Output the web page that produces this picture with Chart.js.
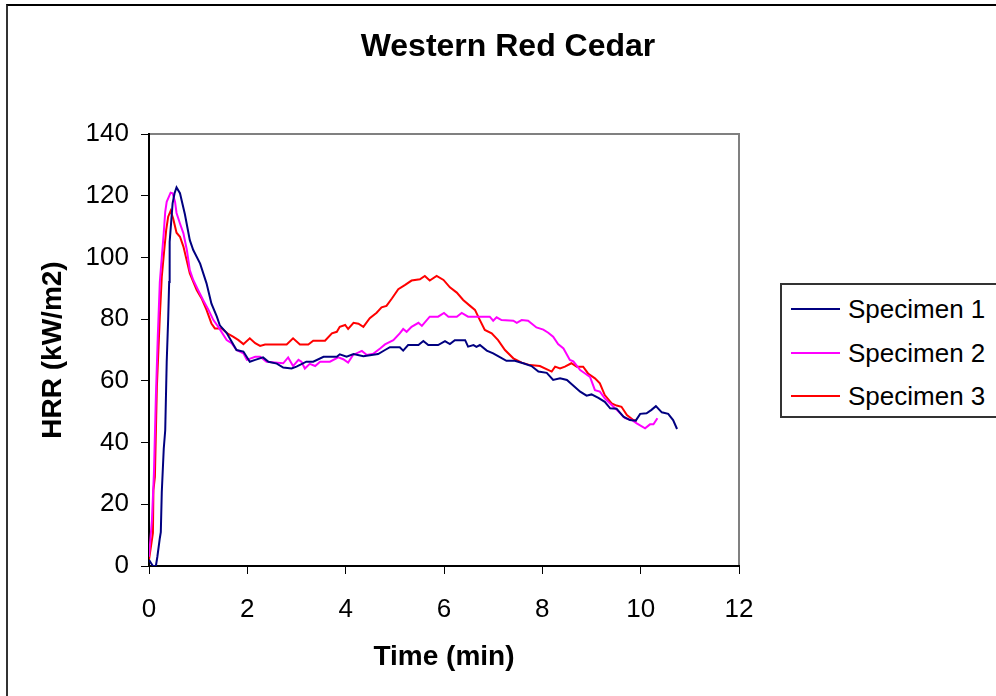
<!DOCTYPE html>
<html>
<head>
<meta charset="utf-8">
<script src="https://cdn.jsdelivr.net/npm/chart.js@4.4.1/dist/chart.umd.min.js"></script>
<style>
  body { margin: 0; background: #fff; font-family: "Liberation Sans", Arial, sans-serif; }
  #wrap { position: relative; width: 996px; height: 696px; overflow: hidden; }
  #frame { position: absolute; left: 6px; top: 4px; width: 1100px; height: 800px; border-left: 2px solid #333; border-top: 2px solid #000; }
  #chart { position: absolute; left: 0; top: 0; }
  #legend { position: absolute; left: 780px; top: 283px; width: 240px; height: 131px; border: 2px solid #333; background: #fff; }
  .row { position: absolute; left: 0; height: 30px; line-height: 30px; font-size: 26px; color: #000; white-space: nowrap; }
  .swatch { position: absolute; left: 9px; top: 14px; width: 49px; height: 2px; }
  .label { position: absolute; left: 66px; top: 0; }
</style>
</head>
<body>
<div id="wrap">
  <div id="frame"></div>
  <canvas id="chart" width="996" height="696"></canvas>
  <div id="legend"></div>
</div>
<script>
// gelezen uit de grafiek: tijd in minuten en HRR in kW/m2
const labels = ['Specimen 1', 'Specimen 2', 'Specimen 3'];
const colors = ['#000080', '#FF00FF', '#FF0000'];

const time1 = [0.00, 0.04, 0.08, 0.14, 0.17, 0.22, 0.24, 0.26, 0.30, 0.33, 0.36, 0.39, 0.41, 0.42, 0.48, 0.52, 0.56, 0.63, 0.73, 0.83,
  0.90, 1.04, 1.17, 1.27, 1.38, 1.44, 1.58, 1.78, 1.92, 2.05, 2.16, 2.32, 2.43, 2.60, 2.73, 2.90, 3.00, 3.20, 3.34, 3.55,
  3.82, 3.88, 4.02, 4.16, 4.36, 4.66, 4.80, 4.90, 5.10, 5.17, 5.27, 5.48, 5.58, 5.68, 5.88, 6.02, 6.12, 6.22, 6.43, 6.49,
  6.60, 6.66, 6.73, 6.87, 7.00, 7.10, 7.27, 7.44, 7.61, 7.78, 7.92, 8.09, 8.22, 8.36, 8.50, 8.77, 8.90, 9.00, 9.14, 9.27,
  9.38, 9.51, 9.65, 9.78, 9.90, 9.99, 10.12, 10.22, 10.31, 10.43, 10.56, 10.66, 10.74];
const hrr1 = [2, 1, 0, 0, 3, 9, 11, 24, 38, 44, 66, 80, 92, 105, 117.5, 120.8, 122.7, 120.8, 114, 105.6,
  102.4, 98, 91.6, 85, 80.8, 78, 75.5, 70, 69.5, 66.2, 66.8, 67.6, 66.2, 65.6, 64.3, 64, 64.6, 66.2, 66.2, 67.8,
  67.8, 68.6, 67.8, 68.7, 68, 68.7, 70, 70.9, 70.9, 69.8, 71.6, 71.6, 72.9, 71.6, 71.6, 72.9, 71.9, 73.2, 73.2, 71.1,
  71.6, 71.0, 71.6, 69.8, 68.9, 68, 66.5, 66.5, 65.7, 64.8, 63, 62.6, 60.3, 60.8, 60.3, 56.5, 55.2, 55.6, 54.5, 53.2,
  51.1, 51, 48.4, 47.3, 47.1, 49.3, 49.5, 50.6, 51.8, 49.8, 49.3, 47.3, 44.4];

const time2 = [0.00, 0.06, 0.10, 0.14, 0.18, 0.22, 0.26, 0.30, 0.33, 0.36, 0.44, 0.48, 0.53, 0.56, 0.63, 0.70, 0.77, 0.83, 0.90, 1.00,
  1.10, 1.21, 1.31, 1.41, 1.58, 1.68, 1.78, 1.92, 1.99, 2.16, 2.26, 2.39, 2.73, 2.83, 2.93, 3.04, 3.10, 3.17, 3.27, 3.38,
  3.48, 3.68, 3.85, 3.95, 4.05, 4.15, 4.33, 4.43, 4.56, 4.70, 4.80, 4.97, 5.10, 5.17, 5.24, 5.34, 5.48, 5.55, 5.71, 5.88,
  6.00, 6.09, 6.26, 6.36, 6.49, 6.93, 7.00, 7.07, 7.17, 7.41, 7.48, 7.58, 7.71, 7.88, 8.02, 8.12, 8.22, 8.32, 8.43, 8.56,
  8.63, 8.77, 8.87, 8.97, 9.07, 9.17, 9.27, 9.41, 9.54, 9.68, 9.82, 9.92, 10.09, 10.19, 10.26, 10.34];
const hrr2 = [3, 15, 30, 55, 75, 92, 100, 108, 114.8, 118, 121, 120.8, 118, 114.4, 111, 107.8, 102.4, 95.9, 92.7, 89.4,
  86.2, 83, 79.7, 77.5, 73.2, 72.2, 70, 68.9, 66.8, 67.8, 67.8, 66.2, 65.7, 67.6, 64.8, 66.8, 66.2, 64, 65.5, 64.8,
  66.2, 66.2, 67.6, 67, 65.9, 68.4, 69.7, 68.4, 68.8, 70.5, 71.8, 73.2, 75.4, 76.8, 75.9, 77.5, 78.8, 77.8, 80.8, 80.8,
  82, 80.8, 80.8, 82, 80.8, 80.8, 79.5, 80.6, 79.7, 79.5, 78.8, 79.7, 79.5, 77.3, 76.6, 75.6, 74.3, 71.9, 70.5, 66.8,
  66.3, 63.5, 62.4, 61.3, 57, 56.5, 54.3, 52.2, 50.2, 47.9, 47.3, 46.2, 44.6, 45.9, 45.9, 47.9];

const time3 = [0.00, 0.02, 0.08, 0.09, 0.12, 0.16, 0.22, 0.26, 0.31, 0.35, 0.39, 0.44, 0.49, 0.56, 0.63, 0.70, 0.83, 0.97, 1.07, 1.17,
  1.27, 1.34, 1.48, 1.61, 1.71, 1.82, 1.92, 2.05, 2.16, 2.26, 2.36, 2.80, 2.93, 3.07, 3.24, 3.34, 3.58, 3.72, 3.82, 3.88,
  3.99, 4.05, 4.16, 4.26, 4.36, 4.49, 4.63, 4.73, 4.83, 4.94, 5.07, 5.21, 5.34, 5.51, 5.61, 5.71, 5.85, 5.99, 6.12, 6.26,
  6.39, 6.53, 6.63, 6.73, 6.83, 6.97, 7.10, 7.24, 7.41, 7.58, 7.75, 7.95, 8.19, 8.26, 8.36, 8.46, 8.59, 8.70, 8.83, 8.93,
  9.07, 9.17, 9.27, 9.41, 9.51, 9.61, 9.72, 9.85, 9.92];
const hrr3 = [2, 2, 10.7, 24.6, 28.9, 58, 80.8, 93.7, 102.4, 108.9, 113.2, 115.1, 112.7, 108, 106.7, 103.5, 94.8, 89.4, 86.7, 83,
  78.6, 77, 77, 75.2, 74.3, 73.2, 71.9, 73.8, 72.2, 71.3, 71.8, 71.8, 73.8, 71.8, 71.8, 73, 73, 75.4, 75.9, 77.5,
  78.1, 76.8, 78.8, 78.5, 77.5, 80.3, 82.1, 83.8, 84.3, 86.7, 89.7, 91.1, 92.5, 92.9, 94, 92.5, 94, 92.7, 90.3, 88.6,
  86.2, 84.3, 83, 79.7, 76.5, 75.4, 73.2, 70, 67.3, 65.9, 65.1, 64.8, 63, 64.6, 64, 64.6, 65.7, 64.6, 64.6, 62.4,
  60.8, 59.2, 55.4, 52.7, 52, 51.6, 48.9, 47.3, 47.1];

const times = [time1, time2, time3];
const values = [hrr1, hrr2, hrr3];

const fontFam = '"Liberation Sans", Arial, sans-serif';

// hier maakt die de punten aan voor elke specimen
const datasets = labels.map(function (label, i) {
  return {
    label: label,
    data: times[i].map((t, j) => ({ x: t, y: values[i][j] })),
    borderColor: colors[i],
    backgroundColor: colors[i],
    borderWidth: 2,
    pointRadius: 0,
    tension: 0,
    fill: false
  };
});

// grijze rand om de plot area, de assen tekenen links en onder zwart
const plotFrame = {
  id: 'plotFrame',
  beforeDraw(chart) {
    const a = chart.chartArea;
    const ctx = chart.ctx;
    ctx.save();
    ctx.strokeStyle = '#808080';
    ctx.lineWidth = 2;
    ctx.strokeRect(a.left, a.top, a.right - a.left, a.bottom - a.top);
    ctx.restore();
  }
};

new Chart(document.getElementById('chart'), {
  type: 'line',
  data: { datasets: datasets },
  plugins: [plotFrame],
  options: {
    responsive: false,
    animation: false,
    layout: { padding: { left: 20, right: 0, top: 0, bottom: 0 } },
    plugins: {
      legend: { display: false },
      tooltip: { enabled: false },
      title: {
        display: true,
        text: 'Western Red Cedar',
        color: '#000',
        font: { family: fontFam, size: 32, weight: 'bold' },
        padding: { top: 28, bottom: 67.6 }
      }
    },
    scales: {
      x: {
        type: 'linear',
        position: 'bottom',
        min: 0,
        max: 12,
        ticks: { stepSize: 2, color: '#000', font: { family: fontFam, size: 26 }, padding: 20, maxRotation: 0 },
        grid: { drawOnChartArea: false, drawTicks: true, tickLength: 8, color: '#000', lineWidth: 1 },
        border: { display: true, color: '#000', width: 2 },
        title: { display: true, text: 'Time (min)', color: '#000', font: { family: fontFam, size: 28, weight: 'bold' }, padding: { top: 0, bottom: 22 } },
        afterFit(s) { s.height = 130; }
      },
      y: {
        type: 'linear',
        position: 'left',
        min: 0,
        max: 140,
        ticks: { stepSize: 20, color: '#000', font: { family: fontFam, size: 26 }, padding: 12 },
        grid: { drawOnChartArea: false, drawTicks: true, tickLength: 8, color: '#000', lineWidth: 1 },
        border: { display: true, color: '#000', width: 2 },
        title: { display: true, text: 'HRR (kW/m2)', color: '#000', font: { family: fontFam, size: 28, weight: 'bold' }, padding: { top: 16, bottom: 0 } },
        afterFit(s) { s.width = 129; }
      },
      y2: {
        type: 'linear',
        position: 'right',
        min: 0,
        max: 140,
        ticks: { display: false },
        grid: { display: false },
        border: { display: false },
        afterFit(s) { s.width = 257; }
      }
    }
  }
});

// legenda rechts naast de grafiek
const legend = document.getElementById('legend');
labels.forEach(function (label, i) {
  const row = document.createElement('div');
  row.className = 'row';
  row.style.top = (9 + i * 43.5) + 'px';
  row.innerHTML = '<span class="swatch" style="background:' + colors[i] + '"></span><span class="label">' + label + '</span>';
  legend.appendChild(row);
});
</script>
</body>
</html>
